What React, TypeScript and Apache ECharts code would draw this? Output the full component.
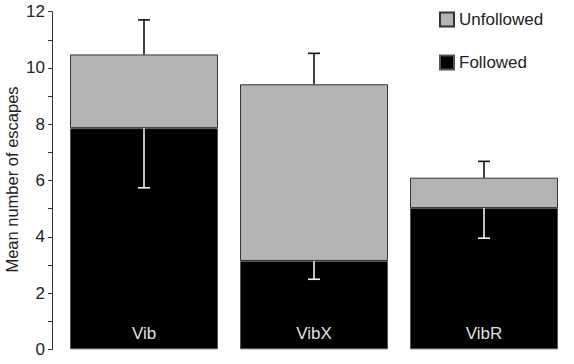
import React, { useEffect, useRef } from "react";
import * as echarts from "echarts";

const categories = ["Vib", "VibX", "VibR"];
const followed = [7.86, 3.14, 5.02];
const unfollowed = [2.62, 6.28, 1.08];
const totalUpperErr = [11.71, 10.52, 6.68];
const followedLowerErr = [5.74, 2.49, 3.95];
const yTicks = [0, 2, 4, 6, 8, 10, 12];

export default function App() {
  const ref = useRef<HTMLDivElement>(null);
  useEffect(() => {
    if (!ref.current) return;
    const chart = echarts.init(ref.current, null, { renderer: "svg" });
    const totals = followed.map((f, i) => f + unfollowed[i]);
    const errRender = (color: string) => (params: any, api: any) => {
      const i = api.value(0);
      const from = api.coord([i, api.value(1)]);
      const to = api.coord([i, api.value(2)]);
      const half = 6;
      return {
        type: "group",
        children: [
          { type: "line", shape: { x1: from[0], y1: from[1], x2: to[0], y2: to[1] }, style: { stroke: color, lineWidth: 1.6 } },
          { type: "line", shape: { x1: to[0] - half, y1: to[1], x2: to[0] + half, y2: to[1] }, style: { stroke: color, lineWidth: 1.6 } },
        ],
      };
    };
    chart.setOption({
      animation: false,
      backgroundColor: "#ffffff",
      textStyle: { fontFamily: "Liberation Sans, Arial, sans-serif" },
      grid: { left: 59, right: 5, top: 11.7, bottom: 14.7, outerBoundsMode: "none", containLabel: false },
      legend: {
        data: ["Unfollowed", "Followed"],
        orient: "vertical",
        left: 434,
        top: 6,
        icon: "rect",
        itemWidth: 14,
        itemHeight: 14,
        itemGap: 26,
        textStyle: { fontSize: 17, color: "#222", fontFamily: "Liberation Sans, Arial, sans-serif" },
      },
      xAxis: {
        type: "category",
        data: categories,
        axisLine: { show: false },
        axisTick: { show: false },
        axisLabel: { show: false },
      },
      yAxis: {
        type: "value",
        min: yTicks[0],
        max: yTicks[yTicks.length - 1],
        interval: 2,
        offset: 7,
        name: "Mean number of escapes",
        nameLocation: "middle",
        nameGap: 32,
        nameMoveOverlap: false,
        nameTextStyle: { fontSize: 16.5, color: "#222", padding: [0, 0, 0, 2] },
        axisLine: { show: true, lineStyle: { color: "#333", width: 1 } },
        axisTick: { show: true, length: 4, lineStyle: { color: "#333" } },
        minorTick: { show: true, splitNumber: 2, length: 4, lineStyle: { color: "#333" } },
        splitLine: { show: false },
        axisLabel: { fontSize: 17, color: "#222", margin: 7 },
      },
      series: [
        {
          name: "Followed",
          type: "bar",
          stack: "s",
          barWidth: 148,
          data: followed,
          itemStyle: { color: "#000000", borderColor: "#555", borderWidth: 1 },
          label: {
            show: true,
            position: "insideBottom",
            distance: 7,
            formatter: "{b}",
            color: "#e0e0e0",
            fontSize: 17,
          },
        },
        {
          name: "Unfollowed",
          type: "bar",
          stack: "s",
          barWidth: 148,
          data: unfollowed,
          itemStyle: { color: "#b3b3b3", borderColor: "#333", borderWidth: 1 },
        },
        {
          name: "errUp",
          type: "custom",
          renderItem: errRender("#111"),
          data: categories.map((c, i) => [i, totals[i], totalUpperErr[i]]),
          z: 10,
        },
        {
          name: "errDown",
          type: "custom",
          renderItem: errRender("#f0f0f0"),
          data: categories.map((c, i) => [i, followed[i], followedLowerErr[i]]),
          z: 10,
        },
      ],
    });
    return () => chart.dispose();
  }, []);
  return <div ref={ref} style={{ width: 574, height: 364, position: "absolute", left: 0, top: 0 }} />;
}
